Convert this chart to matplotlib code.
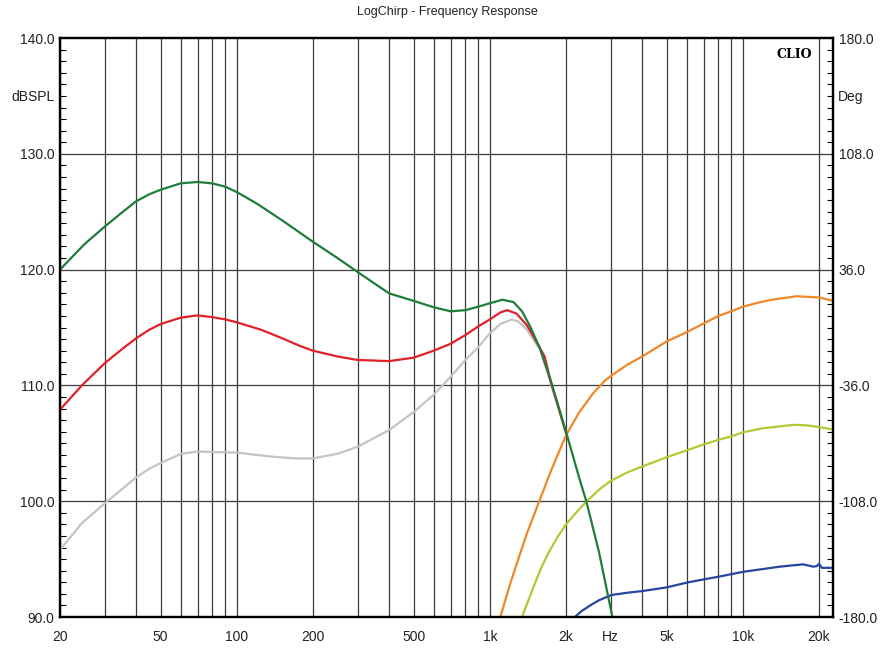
import numpy as np
import matplotlib
matplotlib.use("Agg")
import matplotlib.pyplot as plt
from matplotlib.ticker import FixedLocator

plt.rcParams['font.family'] = ['Liberation Sans', 'DejaVu Sans']

# ---- data (Hz, dBSPL) ----
green_f = [20, 25, 30, 35, 40, 45, 50, 60, 70, 80, 90, 100, 120, 150, 200, 250, 300,
           350, 400, 500, 600, 700, 800, 900, 1000, 1120, 1240, 1340, 1442, 1578,
           1736, 2000, 2263, 2408, 2700, 3050]
green_db = [120.0, 122.2, 123.7, 124.9, 125.9, 126.5, 126.9, 127.45, 127.57, 127.45,
            127.16, 126.7, 125.7, 124.3, 122.4, 121.0, 119.8, 118.8, 117.95, 117.3,
            116.75, 116.4, 116.5, 116.8, 117.1, 117.4, 117.2, 116.4, 115.1, 113.2,
            110.5, 106.0, 101.9, 99.96, 95.6, 90.0]

red_f = [20, 24.4, 30, 35, 40, 45, 50, 60, 70, 80, 90, 100, 125, 150, 178, 200, 250,
         300, 400, 500, 600, 700, 800, 900, 1000, 1100, 1170, 1276, 1400, 1490, 1646,
         1736, 2000]
red_db = [107.9, 110.0, 111.9, 113.1, 114.07, 114.8, 115.3, 115.85, 116.05, 115.9,
          115.7, 115.45, 114.8, 114.1, 113.4, 113.0, 112.5, 112.2, 112.1, 112.4, 113.0,
          113.6, 114.35, 115.1, 115.7, 116.3, 116.5, 116.2, 115.2, 114.2, 112.5,
          110.4, 105.9]

gray_f = [20, 24.4, 30, 35, 40, 45, 50, 60, 70, 80, 100, 137, 170, 200, 250, 300, 400,
          500, 600, 700, 800, 900, 1000, 1100, 1220, 1300, 1402, 1578, 1736, 2000]
gray_db = [95.8, 98.1, 99.8, 101.0, 102.06, 102.8, 103.3, 104.08, 104.3, 104.25, 104.2,
           103.85, 103.7, 103.7, 104.1, 104.7, 106.15, 107.7, 109.2, 110.75, 112.2,
           113.3, 114.5, 115.3, 115.7, 115.5, 114.8, 113.1, 110.3, 105.8]

orange_f = [1097, 1200, 1300, 1400, 1565, 1750, 2000, 2250, 2566, 2844, 3000, 3500,
            4000, 5000, 6000, 7000, 8000, 9000, 10000, 11500, 13000, 16300, 20000, 22800]
orange_db = [89.9, 92.8, 95.1, 97.2, 99.96, 102.7, 105.7, 107.65, 109.35, 110.4, 110.8,
             111.8, 112.5, 113.8, 114.6, 115.35, 116.0, 116.4, 116.8, 117.15, 117.4,
             117.7, 117.6, 117.3]

yellow_f = [1334, 1500, 1600, 1700, 1850, 2000, 2200, 2408, 2700, 3000, 3500, 4000,
            5000, 6000, 7000, 8000, 9000, 10000, 12000, 15900, 18000, 20000, 22800]
yellow_db = [89.9, 92.8, 94.3, 95.5, 96.9, 98.0, 99.05, 99.96, 101.0, 101.75, 102.5,
             103.0, 103.8, 104.4, 104.9, 105.3, 105.6, 105.95, 106.3, 106.6, 106.55,
             106.4, 106.2]

blue_f = [2140, 2300, 2490, 2700, 3020, 3500, 4000, 5000, 6000, 7000, 8000, 9000,
          10000, 14000, 17300, 19000, 19600, 20000, 20500, 22800]
blue_db = [89.9, 90.5, 91.0, 91.45, 91.9, 92.1, 92.24, 92.56, 92.97, 93.25, 93.48,
           93.7, 93.9, 94.35, 94.55, 94.35, 94.4, 94.6, 94.25, 94.25]

xtick_vals = [20, 50, 100, 200, 500, 1000, 2000, 3000, 5000, 10000, 20000]
xtick_text = ['20', '50', '100', '200', '500', '1k', '2k', 'Hz', '5k', '10k', '20k']
ytick_left = [90, 100, 110, 120, 130, 140]
ytick_right = [-180, -108, -36, 36, 108, 180]

fig = plt.figure(figsize=(8.95, 6.48), dpi=100)
ax = fig.add_axes([0.067, 0.0478, 0.8637, 0.8935])
ax.set_xscale('log')
ax.set_xlim(20, 22700)
ax.set_ylim(90, 140)

# vertical grid at every 1..9 x decade
vlines = [m * d for d in (10, 100, 1000, 10000) for m in range(1, 10)]
vlines = [v for v in vlines if 20 <= v <= 20000]
for v in vlines:
    ax.axvline(v, color='#3c3c3c', lw=0.9, zorder=1)
for h in ytick_left[1:-1]:
    ax.axhline(h, color='#3c3c3c', lw=0.9, zorder=1)

ax.plot(gray_f, gray_db, color='#c4c4c4', lw=1.6, zorder=3)
ax.plot(red_f, red_db, color='#e02228', lw=1.6, zorder=4)
ax.plot(green_f, green_db, color='#1e7d3c', lw=1.6, zorder=5)
ax.plot(orange_f, orange_db, color='#f0882a', lw=1.6, zorder=3)
ax.plot(yellow_f, yellow_db, color='#b4c834', lw=1.6, zorder=3)
ax.plot(blue_f, blue_db, color='#2645a0', lw=1.6, zorder=3)

ax.xaxis.set_major_locator(FixedLocator(xtick_vals))
ax.xaxis.set_minor_locator(FixedLocator([]))
ax.set_xticklabels(xtick_text, fontsize=10, color='#222222')
ax.tick_params(axis='x', length=0, pad=9)

ax.yaxis.set_major_locator(FixedLocator(ytick_left))
ax.yaxis.set_minor_locator(FixedLocator(np.arange(90, 141, 1)))
ax.set_yticklabels(['%.1f' % v for v in ytick_left], fontsize=10, color='#222222')
ax.tick_params(axis='y', which='major', length=0, pad=4)
ax.tick_params(axis='y', which='minor', direction='in', length=4, width=0.8)

ax2 = ax.twinx()
ax2.set_ylim(-180, 180)
ax2.yaxis.set_major_locator(FixedLocator(ytick_right))
ax2.yaxis.set_minor_locator(FixedLocator(np.arange(-180, 181, 7.2)))
ax2.set_yticklabels(['%.1f' % v for v in ytick_right], fontsize=10, color='#222222')
ax2.tick_params(axis='y', which='major', length=0, pad=4)
ax2.tick_params(axis='y', which='minor', direction='in', length=4, width=0.8)

for a in (ax, ax2):
    for s in a.spines.values():
        s.set_linewidth(1.6)
        s.set_color('black')

fig.text(0.0615, 0.850, 'dBSPL', ha='right', va='center', fontsize=10, color='#222222')
fig.text(0.936, 0.850, 'Deg', ha='left', va='center', fontsize=10, color='#222222')
fig.text(0.5, 0.981, 'LogChirp - Frequency Response', ha='center', va='center',
         fontsize=9, color='#222222')
ax.text(0.95, 0.982, 'CLIO', transform=ax.transAxes, ha='center', va='top',
        fontsize=9, fontweight='bold', family='DejaVu Serif')

fig.savefig('out.png', dpi=100)
